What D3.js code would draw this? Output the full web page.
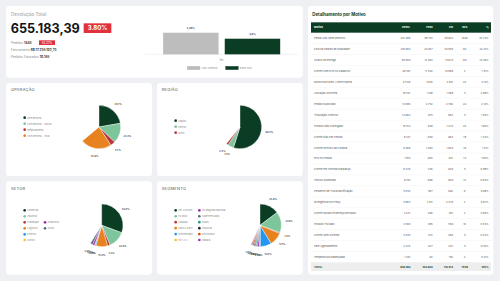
<!DOCTYPE html>
<html>
<head>
<meta charset="utf-8">
<script src="https://cdn.jsdelivr.net/npm/d3@7"></script>
<style>
  body { margin: 0; background: #eef0f4; overflow: hidden; }
  svg { display: block; font-family: Inter, Roboto, "Noto Sans", sans-serif; }
</style>
</head>
<body>
<script>
// drawn in a 1500x843 space, shown at 500x281
const W = 1500, H = 843;

const barSeries = ['Ano Anterior', 'Esse Ano'];
const barValues = [5.26, 3.8];
const barLabels = ['5,26%', '3,8%'];
const barCategory = ['fev'];

const opLabels = ['Sem Retorno', 'Com Retorno - Parcial', 'Refaturamento', 'Com Retorno - Total'];
const opValues = [34.7, 23.3, 5.7, 35.9];

const regLabels = ['Capital', 'Interior', 'Outro'];
const regValues = [90.3, 7.3, 2.4];

const setorLabels = ['Comercial', 'Indústria', 'Expedição', 'Logística', 'Externo', 'Outros', 'Financeiro', 'Fiscal'];
const setorValues = [52.0, 22.0, 3.3, 15.0, 1.5, 0.5, 2.7, 3.0];

const segLabels = ['Key Account', 'Hz Rota', 'Atacado', 'Cash & Carry', 'Minimercado', 'Hz 1 A 4',
  'Hz Regional/Nacional', 'Supermercados', 'Foods', 'Industrial', 'Distribuidor', 'Padaria'];
const segValues = [25.9, 27.8, 1.2, 17.7, 15.0, 1.0, 2.5, 2.0, 1.8, 1.5, 2.1, 1.5];

const motivos = ['Perda Loja (Sem Retorno)', 'Fora do Padrão de Qualidade', 'Atraso na Entrega',
  'Cliente com Erro no Cadastro', 'Motorista Exced. Limite Espera', 'Alocação Incorreta',
  'Pedido Duplicado', 'Tributação (Interno)', 'Produto Não Carregado', 'Cliente Não Fez Pedido',
  'Cliente Desistiu da Compra', 'Erro no Pedido', 'Cliente em Inventário/Balanço', 'Veículo Quebrado',
  'Pendente de Troca/Bonificação', 'Divergência no Preço', 'Cliente Mudou Endereço/Fechado',
  'Produto Trocado', 'Cliente Sem Sistema', 'Sem Agendamento', 'Temperatura Inadequada'];
const devol = [214496, 146803, 93050, 48581, 27136, 19521, 13865, 12664, 10514, 9331, 8588, 7105, 6476, 6152, 5853, 5683, 4241, 3508, 2835, 2272, 1401];
const peso = [39753, 23057, 12463, 11542, 3816, 1109, 2752, 675, 939, 650, 1363, 605, 436, 666, 597, 1251, 288, 365, 472, 227, 82];
const vol = [39932, 30856, 15673, 10889, 4810, 1569, 2760, 863, 1372, 663, 1655, 631, 628, 938, 820, 2478, 501, 556, 486, 327, 150];
const nfs = [1028, 92, 102, 4, 24, 5, 22, 5, 24, 19, 16, 13, 5, 14, 9, 3, 4, 10, 5, 5, 2];
const pct = [32.74, 22.41, 14.20, 7.41, 4.14, 2.98, 2.12, 1.93, 1.60, 1.42, 1.31, 1.08, 0.99, 0.94, 0.89, 0.87, 0.65, 0.54, 0.43, 0.35, 0.21];
const totals = [655183, 103629, 119514, 1448];

const COLORS = {
  GREEN: '#0b3d24',
  LIGHT: '#7dc59b',
  RED: '#b8373a',
  ORANGE: '#e8821e',
  BLUE: '#2196f3',
  YELLOW: '#fbc02d',
  PURPLE: '#9c27b0',
  SLATE: '#546e7a',
  TEAL: '#16a085',
  NAVY: '#1b2a3a',
  DORANGE: '#d35400',
  GRAY: '#bdbdbd',
  BADGE: '#e0313d'
};

const ptBR = d3.formatLocale({ decimal: ',', thousands: '.', grouping: [3], currency: ['R$ ', ''] });
const fmtInt = ptBR.format(',d');

const svg = d3.select('body').append('svg')
  .attr('width', 500).attr('height', 281)
  .attr('viewBox', [0, 0, W, H]);

const card = (x, y, w, h) => svg.append('rect')
  .attr('x', x).attr('y', y).attr('width', w).attr('height', h)
  .attr('rx', 10).attr('fill', '#fff');

card(18, 18, 890, 215);
card(18, 249, 438, 279);
card(471, 249, 437, 279);
card(18, 544, 438, 280);
card(471, 544, 437, 280);
card(924, 18, 556, 806);

// ---- KPI block
svg.append('text').attr('x', 33).attr('y', 47).attr('font-size', 14).attr('fill', '#9a9a9a').text('Devolução Total');
svg.append('text').attr('x', 32).attr('y', 99).attr('font-size', 38).attr('font-weight', 700).attr('fill', '#141414').text('655.183,39');
svg.append('rect').attr('x', 251).attr('y', 70).attr('width', 83).attr('height', 29).attr('fill', COLORS.BADGE);
svg.append('text').attr('x', 292.5).attr('y', 91).attr('text-anchor', 'middle').attr('font-size', 18)
  .attr('font-weight', 700).attr('fill', '#fff').text('3.80%');

const info = svg.append('g').attr('font-size', 9.5).attr('fill', '#8a8a8a');
const l1 = info.append('text').attr('x', 33).attr('y', 131);
l1.append('tspan').text('Pedidos ');
l1.append('tspan').attr('font-weight', 700).attr('fill', '#333').text('1448');
svg.append('rect').attr('x', 117).attr('y', 121).attr('width', 48).attr('height', 14).attr('fill', COLORS.BADGE);
svg.append('text').attr('x', 141).attr('y', 131.5).attr('text-anchor', 'middle').attr('font-size', 9)
  .attr('fill', '#fff').text('54.21%');
const l2 = info.append('text').attr('x', 33).attr('y', 153);
l2.append('tspan').text('Faturamento ');
l2.append('tspan').attr('font-weight', 700).attr('fill', '#333').text('R$ 17.258.102,75');
const l3 = info.append('text').attr('x', 33).attr('y', 175);
l3.append('tspan').text('Pedidos Faturados ');
l3.append('tspan').attr('font-weight', 700).attr('fill', '#333').text('10.188');

// ---- bar chart
const x0 = d3.scaleBand().domain(barCategory).range([435, 895]).paddingOuter(0.155);
const x1 = d3.scaleBand().domain(barSeries).range([0, x0.bandwidth()]).paddingInner(0.1);
const y = d3.scaleLinear().domain([0, 6]).range([163, 89]);
const barColor = d3.scaleOrdinal().domain(barSeries).range([COLORS.GRAY, COLORS.GREEN]);

svg.append('line').attr('x1', 435).attr('x2', 895).attr('y1', y(0)).attr('y2', y(0))
  .attr('stroke', '#e4e4e4').attr('stroke-width', 1.5);
const bars = svg.append('g').attr('transform', `translate(${x0('fev')},0)`);
bars.selectAll('rect').data(barSeries).join('rect')
  .attr('x', d => x1(d)).attr('width', x1.bandwidth())
  .attr('y', (d, i) => y(barValues[i])).attr('height', (d, i) => y(0) - y(barValues[i]))
  .attr('fill', d => barColor(d));
bars.selectAll('text').data(barSeries).join('text')
  .attr('x', d => x1(d) + x1.bandwidth() / 2).attr('y', (d, i) => y(barValues[i]) - 12)
  .attr('text-anchor', 'middle').attr('font-size', 7.5).attr('font-weight', 700).attr('fill', '#444')
  .text((d, i) => barLabels[i]);
svg.append('text').attr('x', x0('fev') + x0.bandwidth() / 2).attr('y', 182).attr('text-anchor', 'middle')
  .attr('font-size', 8).attr('fill', '#888').text('fev');
const bl = svg.append('g').attr('font-size', 8).attr('fill', '#888');
[[562, 605], [677, 720]].forEach(([sx, tx], i) => {
  bl.append('rect').attr('x', sx).attr('y', 199).attr('width', 38).attr('height', 10)
    .attr('fill', barColor(barSeries[i])).attr('stroke', i ? COLORS.GREEN : '#aaa');
  bl.append('text').attr('x', tx).attr('y', 207).text(barSeries[i]);
});

// ---- pies (caught mid-rotation, so each sweep is under a full turn)
const cardTitle = (x, yy, t) => svg.append('text').attr('x', x).attr('y', yy).attr('font-size', 12)
  .attr('letter-spacing', 0.8).attr('fill', '#555').text(t);

function drawPie({ labels, values, colors, cx, cy, r, sweep, legend }) {
  const pie = d3.pie().sort(null).startAngle(0).endAngle(sweep * Math.PI / 180);
  const arcs = pie(values);
  const arc = d3.arc().innerRadius(0).outerRadius(r);
  const color = d3.scaleOrdinal().domain(labels).range(colors);
  const g = svg.append('g').attr('transform', `translate(${cx},${cy})`);
  g.selectAll('path').data(arcs).join('path')
    .attr('d', arc).attr('fill', (d, i) => color(labels[i]))
    .attr('stroke', '#fff').attr('stroke-width', 1.2);
  const lr = r + 24;
  g.selectAll('text').data(arcs).join('text')
    .attr('x', d => lr * Math.sin((d.startAngle + d.endAngle) / 2))
    .attr('y', d => -lr * Math.cos((d.startAngle + d.endAngle) / 2) + 3)
    .attr('text-anchor', 'middle').attr('font-size', 7).attr('font-weight', 700).attr('fill', '#444')
    .text(d => d.data.toFixed(1) + '%');
  const lg = svg.append('g').attr('font-size', 7).attr('fill', '#888');
  labels.forEach((lab, i) => {
    const [lx, ly] = legend[i];
    lg.append('circle').attr('cx', lx).attr('cy', ly).attr('r', 4).attr('fill', color(lab));
    lg.append('text').attr('x', lx + 8).attr('y', ly + 2.5).text(lab);
  });
}

cardTitle(33, 274, 'OPERAÇÃO');
drawPie({
  labels: opLabels, values: opValues,
  colors: [COLORS.GREEN, COLORS.LIGHT, COLORS.RED, COLORS.ORANGE],
  cx: 297, cy: 381, r: 65, sweep: 230,
  legend: opLabels.map((d, i) => [74, 353 + i * 18])
});

cardTitle(485, 274, 'REGIÃO');
drawPie({
  labels: regLabels, values: regValues,
  colors: [COLORS.GREEN, COLORS.LIGHT, COLORS.RED],
  cx: 720, cy: 381, r: 65, sweep: 219,
  legend: regLabels.map((d, i) => [527, 362 + i * 18])
});

cardTitle(33, 569, 'SETOR');
drawPie({
  labels: setorLabels, values: setorValues,
  colors: [COLORS.GREEN, COLORS.LIGHT, COLORS.RED, COLORS.ORANGE, COLORS.BLUE, COLORS.YELLOW, COLORS.PURPLE, COLORS.SLATE],
  cx: 305, cy: 676, r: 64, sweep: 212,
  legend: [[74, 631], [74, 649], [74, 667], [74, 685], [74, 703], [74, 720], [135, 667], [135, 685]]
});

cardTitle(485, 569, 'SEGMENTO');
drawPie({
  labels: segLabels, values: segValues,
  colors: [COLORS.GREEN, COLORS.LIGHT, COLORS.RED, COLORS.ORANGE, COLORS.BLUE, COLORS.YELLOW,
    COLORS.PURPLE, COLORS.SLATE, COLORS.TEAL, COLORS.NAVY, COLORS.DORANGE, '#8e44ad'],
  cx: 780, cy: 676, r: 64, sweep: 205,
  legend: segLabels.map((d, i) => [i < 6 ? 527 : 598, 631 + (i % 6) * 17.8])
});

// ---- table
svg.append('text').attr('x', 937).attr('y', 47).attr('font-size', 13).attr('font-weight', 700)
  .attr('fill', COLORS.GREEN).text('Detalhamento por Motivo');
svg.append('rect').attr('x', 933).attr('y', 67).attr('width', 540).attr('height', 31).attr('fill', COLORS.GREEN);

const cols = [
  { name: 'Motivo', x: 942, anchor: 'start' },
  { name: 'Devol.', x: 1231, anchor: 'end' },
  { name: 'Peso', x: 1298, anchor: 'end' },
  { name: 'Vol', x: 1359, anchor: 'end' },
  { name: 'NFs', x: 1394, anchor: 'middle' },
  { name: '%', x: 1466, anchor: 'end' }
];
const hdr = svg.append('g').attr('font-size', 8).attr('font-weight', 700).attr('fill', '#fff');
cols.forEach(c => hdr.append('text').attr('x', c.x).attr('y', 85).attr('text-anchor', c.anchor).text(c.name));

const rowY = d3.scaleBand().domain(d3.range(motivos.length)).range([98, 787]);
const rows = svg.append('g').attr('font-size', 7.8).attr('fill', '#555');
motivos.forEach((m, i) => {
  const yy = rowY(i) + rowY.bandwidth() / 2 + 3;
  const cells = [m, fmtInt(devol[i]), fmtInt(peso[i]), fmtInt(vol[i]), nfs[i], pct[i].toFixed(2) + '%'];
  cells.forEach((v, j) => rows.append('text').attr('x', cols[j].x).attr('y', yy)
    .attr('text-anchor', cols[j].anchor).text(v));
  if (i < motivos.length - 1) {
    rows.append('line').attr('x1', 933).attr('x2', 1473)
      .attr('y1', rowY(i) + rowY.bandwidth()).attr('y2', rowY(i) + rowY.bandwidth())
      .attr('stroke', '#eeeeee').attr('stroke-width', 1);
  }
});
svg.append('rect').attr('x', 933).attr('y', 787).attr('width', 540).attr('height', 26).attr('fill', '#eeeeee');
const tot = svg.append('g').attr('font-size', 7.8).attr('font-weight', 700).attr('fill', COLORS.GREEN);
['TOTAL', ...totals.slice(0, 3).map(fmtInt), totals[3], '100%'].forEach((v, j) =>
  tot.append('text').attr('x', cols[j].x).attr('y', 803).attr('text-anchor', cols[j].anchor).text(v));
</script>
</body>
</html>
